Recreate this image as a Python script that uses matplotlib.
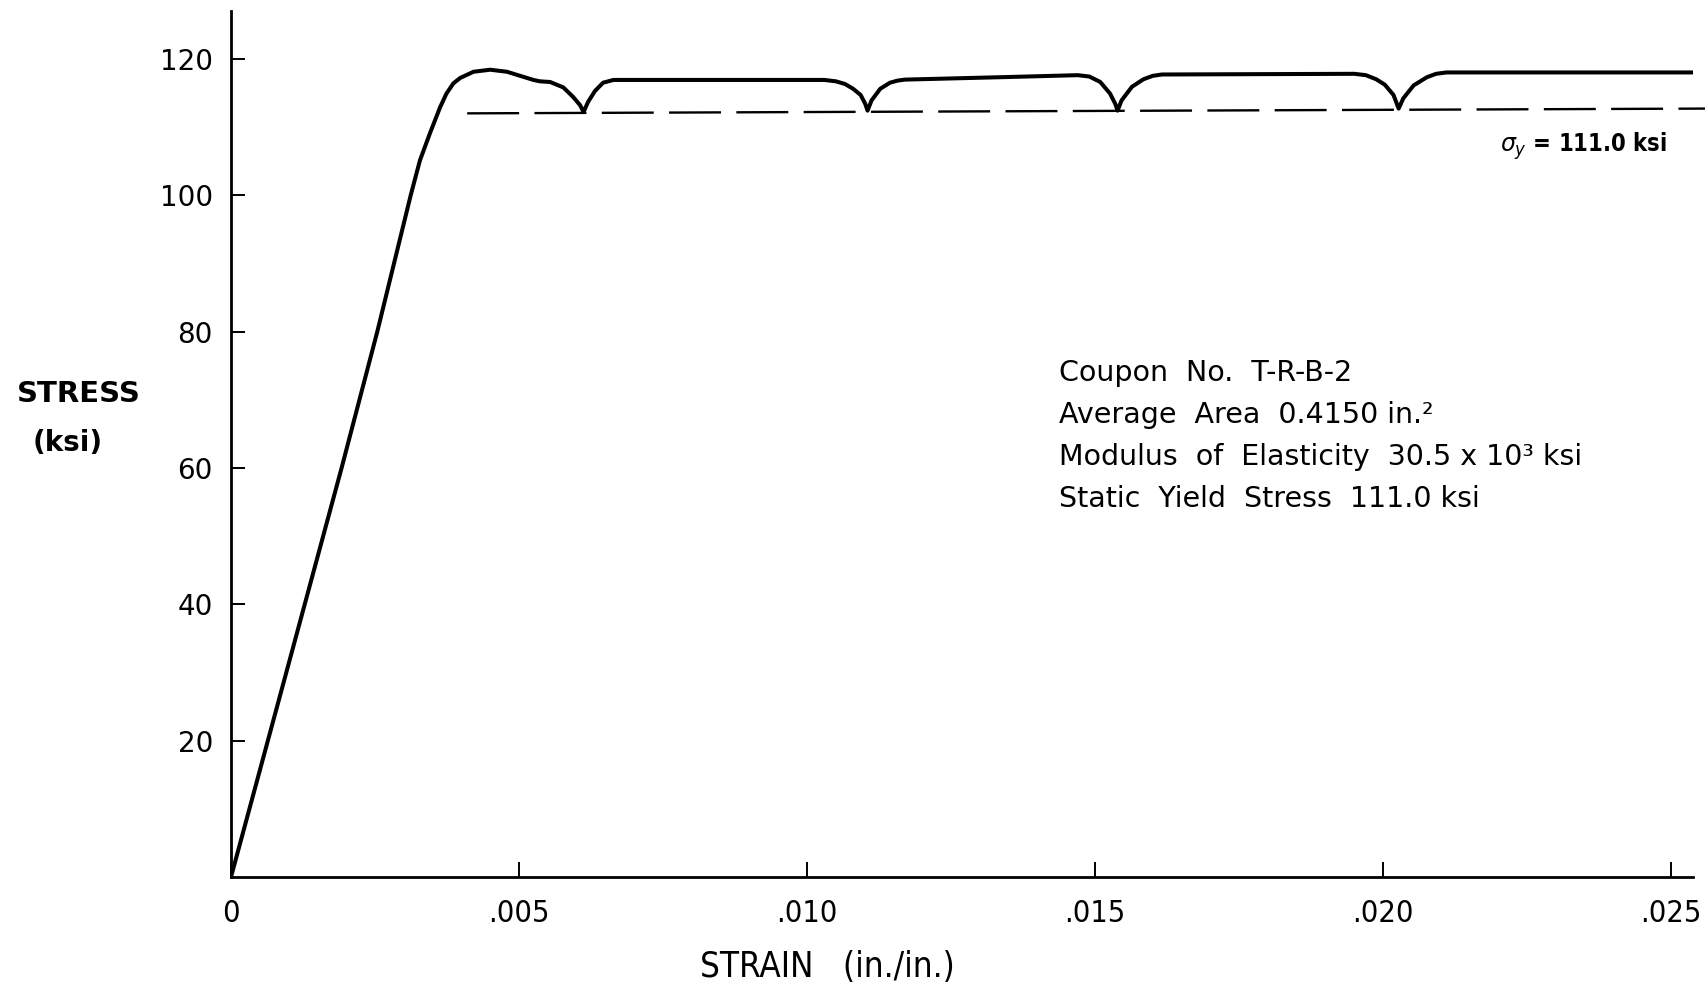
import matplotlib
matplotlib.use('Agg')
import matplotlib.pyplot as plt
from matplotlib import font_manager

# stress-strain curve
strain = [0, 0.00064, 0.00128, 0.00192, 0.00254, 0.00312, 0.00328, 0.00345,
          0.00363, 0.00374, 0.00386, 0.00398, 0.00421, 0.00450, 0.00479,
          0.00525, 0.00536, 0.00554, 0.00577, 0.00594, 0.00606, 0.00612,
          0.00620, 0.00632, 0.00646, 0.00664, 0.00814,
          0.01030, 0.01050, 0.01066, 0.01080, 0.01093, 0.01101, 0.01105,
          0.01112, 0.01127, 0.01144, 0.01157, 0.01170, 0.01335, 0.01470,
          0.01490, 0.01509, 0.01526, 0.01535, 0.01539,
          0.01546, 0.01564, 0.01584, 0.01600, 0.01616, 0.01950,
          0.01970, 0.01988, 0.02003, 0.02018, 0.02027,
          0.02035, 0.02053, 0.02076, 0.02092, 0.02110, 0.02536]
stress = [0, 20, 40, 60, 80, 100, 105.1, 109.0,
          112.9, 114.9, 116.4, 117.2, 118.1, 118.4, 118.1,
          116.9, 116.7, 116.6, 115.8, 114.4, 113.2, 112.2,
          113.7, 115.3, 116.5, 116.9, 116.9,
          116.9, 116.7, 116.3, 115.6, 114.7, 113.4, 112.4,
          113.9, 115.6, 116.5, 116.8, 116.95, 117.3, 117.6,
          117.4, 116.6, 114.9, 113.4, 112.4,
          113.9, 115.9, 117.0, 117.5, 117.7, 117.8,
          117.6, 117.0, 116.2, 114.7, 112.7,
          114.2, 116.1, 117.3, 117.8, 118.0, 118.0]

# static yield stress line (dashed)
yield_strain = [0.0041, 0.0256]
yield_stress = [112.0, 112.7]

xticks = [0, 0.005, 0.010, 0.015, 0.020, 0.025]
xlabels = ['0', '.005', '.010', '.015', '.020', '.025']
yticks = [20, 40, 60, 80, 100, 120]
ylabels = ['20', '40', '60', '80', '100', '120']

notes = ['Coupon  No.  T-R-B-2',
         'Average  Area  0.4150 in.\u00b2',
         'Modulus  of  Elasticity  30.5 x 10\u00b3 ksi',
         'Static  Yield  Stress  111.0 ksi']

# narrow lettering for the strain axis, if a condensed face is around
names = {f.name for f in font_manager.fontManager.ttflist}
narrow_fp = None
for nm in ['Liberation Sans Narrow', 'DejaVu Sans Condensed']:
    if nm in names:
        narrow_fp = dict(family=nm)
        break
if narrow_fp is None:
    narrow_fp = dict(family='DejaVu Sans', stretch='condensed')

fig = plt.figure(figsize=(17.06, 9.89), dpi=100)
ax = fig.add_axes([0.1354, 0.1132, 0.857, 0.8756])

ax.plot(strain, stress, color='black', lw=2.9, solid_joinstyle='round')
ax.plot(yield_strain, yield_stress, color='black', lw=1.7,
        dashes=(22, 6.5), clip_on=False)

ax.set_xlim(0, 0.02538)
ax.set_ylim(0, 127)

ax.spines['top'].set_visible(False)
ax.spines['right'].set_visible(False)
ax.spines['left'].set_linewidth(2.0)
ax.spines['bottom'].set_linewidth(2.0)

ax.set_xticks(xticks)
ax.set_xticklabels(xlabels, fontsize=22, **narrow_fp)
ax.set_yticks(yticks)
ax.set_yticklabels(ylabels, family='DejaVu Sans', fontsize=20)
ax.tick_params(axis='x', direction='in', length=11, width=1.4, pad=16)
ax.tick_params(axis='y', direction='in', length=10, width=1.4, pad=13)

ax.set_xlabel('STRAIN   (in./in.)', fontsize=25, **narrow_fp)
ax.xaxis.set_label_coords(0.4077, -0.104)
ax.xaxis.label.set_va('center')

ax.text(-0.1042, 0.5580, 'STRESS', transform=ax.transAxes, ha='center',
        va='center', fontsize=21, fontweight='bold', family='DejaVu Sans')
ax.text(-0.1115, 0.5010, '(ksi)', transform=ax.transAxes, ha='center',
        va='center', fontsize=20, fontweight='bold', family='DejaVu Sans')

for i, line in enumerate(notes):
    ax.text(0.5663, 0.5825 - i * 0.0485, line, transform=ax.transAxes,
            ha='left', va='center', fontsize=20.5, family='DejaVu Sans')

ax.text(0.9248, 0.8440, r'$\sigma_y$ = 111.0 ksi', transform=ax.transAxes,
        ha='center', va='center', fontsize=17, fontweight='bold',
        **narrow_fp)

plt.savefig('out.png', dpi=100)
